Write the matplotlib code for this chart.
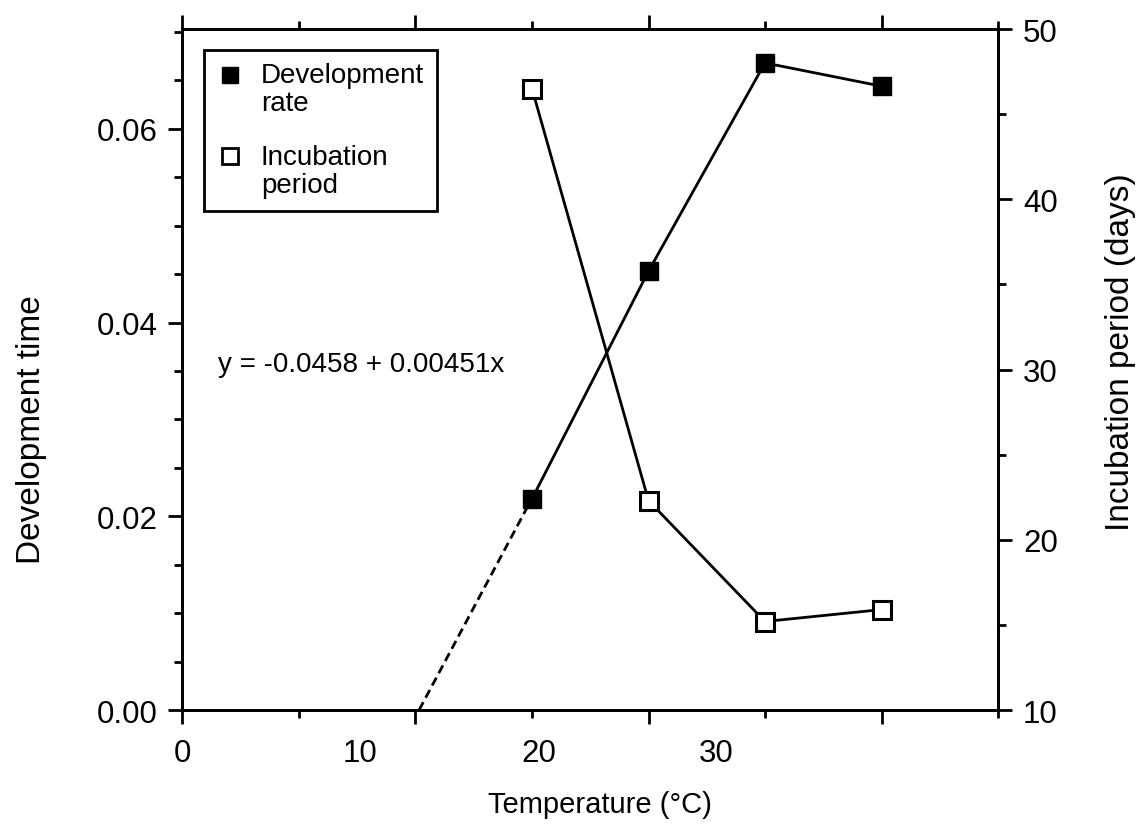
import numpy as np
import matplotlib
matplotlib.use('Agg')
import matplotlib.pyplot as plt
from matplotlib.lines import Line2D
from matplotlib.legend_handler import HandlerLine2D
from matplotlib.ticker import MultipleLocator

plt.rcParams['font.family'] = ['Liberation Sans', 'DejaVu Sans']

# data
temperature = [15, 20, 25, 30]
development_rate = [0.0218, 0.0453, 0.0668, 0.0644]
incubation_days = [46.5, 22.3, 15.2, 15.9]
intercept = -0.0458
slope = 0.00451

# the printed x labels sit off their ticks in the original
x_label_pos = [0, 7.6, 15.3, 22.9]
x_labels = ['0', '10', '20', '30']
left_ticks = [0.00, 0.02, 0.04, 0.06]
right_ticks = [10, 20, 30, 40, 50]

LW = 2.0


class FirstLineHandler(HandlerLine2D):
    # put the legend marker next to the first line of a two-line label
    def create_artists(self, legend, orig_handle, xdescent, ydescent,
                       width, height, fontsize, trans):
        artists = super().create_artists(legend, orig_handle, xdescent, ydescent,
                                         width, height, fontsize, trans)
        for a in artists:
            a.set_ydata(np.asarray(a.get_ydata(), dtype=float) + 0.55 * fontsize)
        return artists


fig = plt.figure(figsize=(11.44, 8.29), dpi=100)
ax = fig.add_axes([0.1595, 0.1423, 0.7129, 0.8215])
ax2 = ax.twinx()

# development rate (left axis)
ax.plot(temperature, development_rate, '-', color='black', lw=LW)
x0 = -intercept / slope
xs = np.array([x0, temperature[0]])
ax.plot(xs, intercept + slope * xs, color='black', lw=LW, dashes=(3.2, 1.8))
ax.plot(temperature, development_rate, 's', color='black', ms=13, mec='black', zorder=5)

# incubation period (right axis)
ax2.plot(temperature, incubation_days, '-', color='black', lw=LW)
ax2.plot(temperature, incubation_days, 's', mfc='white', mec='black', mew=2.2, ms=13, zorder=5)

ax.set_xlim(0, 35)
ax.set_ylim(0, 0.0703)
ax2.set_ylim(10, 50)

for a in (ax, ax2):
    for s in a.spines.values():
        s.set_linewidth(LW)

ax.xaxis.set_major_locator(MultipleLocator(10))
ax.xaxis.set_minor_locator(MultipleLocator(5))
ax.set_xticklabels([])
ax.set_yticks(left_ticks)
ax.set_yticklabels([f'{v:.2f}' for v in left_ticks])
ax.yaxis.set_minor_locator(MultipleLocator(0.005))
ax2.set_yticks(right_ticks)
ax2.yaxis.set_minor_locator(MultipleLocator(5))

ax.tick_params(axis='both', which='major', direction='out', length=10, width=LW,
               labelsize=22.5, pad=8, top=True)
ax.tick_params(axis='both', which='minor', direction='out', length=5.5, width=LW, top=True)
ax2.tick_params(axis='y', which='major', direction='out', length=10, width=LW,
                labelsize=22.5, pad=8)
ax2.tick_params(axis='y', which='minor', direction='out', length=5.5, width=LW)

for pos, lbl in zip(x_label_pos, x_labels):
    ax.annotate(lbl, xy=(pos, 0), xycoords=ax.get_xaxis_transform(),
                xytext=(0, -20), textcoords='offset points',
                ha='center', va='top', fontsize=22.5)

fig.text(600 / 1144, 1 - 805 / 829, 'Temperature (°C)', ha='center', va='center', fontsize=21)
fig.text(32 / 1144, 1 - 430 / 829, 'Development time', ha='center', va='center',
         rotation=90, fontsize=24)
fig.text(1120 / 1144, 1 - 352 / 829, 'Incubation period (days)', ha='center', va='center',
         rotation=90, fontsize=24)

ax.text(218 / 1144, 1 - 365 / 829, 'y = -0.0458 + 0.00451x', transform=fig.transFigure,
        ha='left', va='center', fontsize=20)

handles = [
    Line2D([], [], ls='none', marker='s', mfc='black', mec='black', ms=11),
    Line2D([], [], ls='none', marker='s', mfc='white', mec='black', mew=2, ms=11),
]
leg = ax2.legend(handles, ['Development\nrate', 'Incubation\nperiod'],
                 loc='upper left', bbox_to_anchor=(204 / 1144, 1 - 51 / 829),
                 bbox_transform=fig.transFigure, borderaxespad=0,
                 fontsize=20, frameon=True, fancybox=False, framealpha=1,
                 edgecolor='black', handlelength=1.0, handletextpad=0.6,
                 labelspacing=1.0, borderpad=0.45,
                 handler_map={Line2D: FirstLineHandler()})
leg.get_frame().set_linewidth(LW)
for t in leg.get_texts():
    t.set_linespacing(1.1)

fig.savefig('out.png', dpi=100)
